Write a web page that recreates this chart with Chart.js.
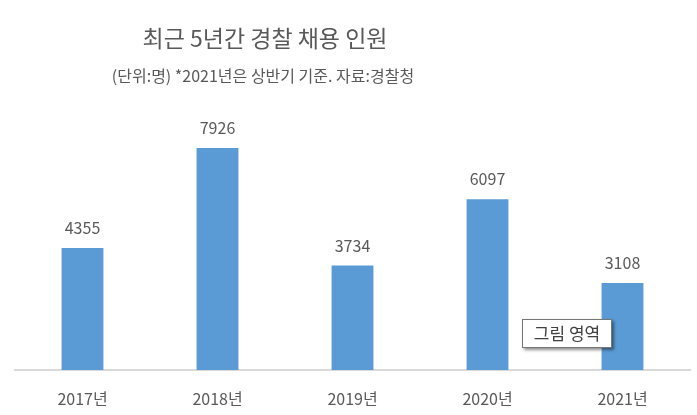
<!DOCTYPE html>
<html>
<head>
<meta charset="utf-8">
<script src="https://cdn.jsdelivr.net/npm/chart.js@4"></script>
<style>
html,body{margin:0;padding:0;background:#fff;}
#wrap{width:697px;height:415px;position:relative;}
</style>
</head>
<body>
<div id="wrap"><canvas id="c"></canvas></div>
<script>
const categories = ["2017년", "2018년", "2019년", "2020년", "2021년"];
const hires = [4355, 7926, 3734, 6097, 3108];
const titleText = "최근 5년간 경찰 채용 인원";
const subtitleText = "(단위:명) *2021년은 상반기 기준. 자료:경찰청";
const calloutText = "그림 영역";

const FONT = '"Noto Sans CJK KR", "Noto Sans", sans-serif';
const TEXT = '#595959';

const decor = {
  id: 'decor',
  afterDatasetsDraw(chart) {
    const ctx = chart.ctx;
    const meta = chart.getDatasetMeta(0);
    ctx.save();
    ctx.fillStyle = TEXT;
    ctx.font = '16px ' + FONT;
    ctx.textAlign = 'center';
    ctx.textBaseline = 'middle';
    meta.data.forEach((bar, i) => {
      ctx.fillText(String(hires[i]), bar.x, bar.y - 20);
    });
    ctx.restore();
  },
  afterDraw(chart) {
    const ctx = chart.ctx;
    ctx.save();
    ctx.fillStyle = TEXT;
    ctx.textAlign = 'center';
    ctx.textBaseline = 'middle';
    ctx.font = '23px ' + FONT;
    ctx.fillText(titleText, 265, 38);
    ctx.font = '16px ' + FONT;
    ctx.fillText(subtitleText, 263, 76);

    // callout box
    const bx = 522, by = 319, bw = 90, bh = 29;
    ctx.shadowColor = 'rgba(0,0,0,0.45)';
    ctx.shadowOffsetX = 2;
    ctx.shadowOffsetY = 2;
    ctx.shadowBlur = 3;
    ctx.fillStyle = '#ffffff';
    ctx.fillRect(bx, by, bw, bh);
    ctx.shadowColor = 'transparent';
    ctx.strokeStyle = '#767676';
    ctx.lineWidth = 1;
    ctx.strokeRect(bx + 0.5, by + 0.5, bw - 1, bh - 1);
    ctx.fillStyle = '#404040';
    ctx.font = '17px ' + FONT;
    ctx.fillText(calloutText, bx + bw / 2, by + bh / 2);
    ctx.restore();
  }
};

new Chart(document.getElementById('c'), {
  type: 'bar',
  data: {
    labels: categories,
    datasets: [{
      data: hires,
      backgroundColor: '#5B9BD5',
      borderWidth: 0,
      categoryPercentage: 1,
      barPercentage: 0.31
    }]
  },
  options: {
    responsive: true,
    maintainAspectRatio: false,
    animation: false,
    devicePixelRatio: 1,
    layout: { padding: { top: 118, left: 15, right: 7, bottom: 0 } },
    plugins: {
      legend: { display: false },
      tooltip: { enabled: false },
      title: { display: false }
    },
    scales: {
      x: {
        grid: { display: false, drawTicks: false },
        border: { display: true, color: '#D9D9D9', width: 2 },
        ticks: { color: TEXT, font: { family: FONT, size: 16, lineHeight: 1.2 }, padding: 19 },
        afterFit(scale) { scale.height = 45; }
      },
      y: {
        display: false,
        min: 0,
        max: 9000
      }
    }
  },
  plugins: [decor]
});
</script>
</body>
</html>
